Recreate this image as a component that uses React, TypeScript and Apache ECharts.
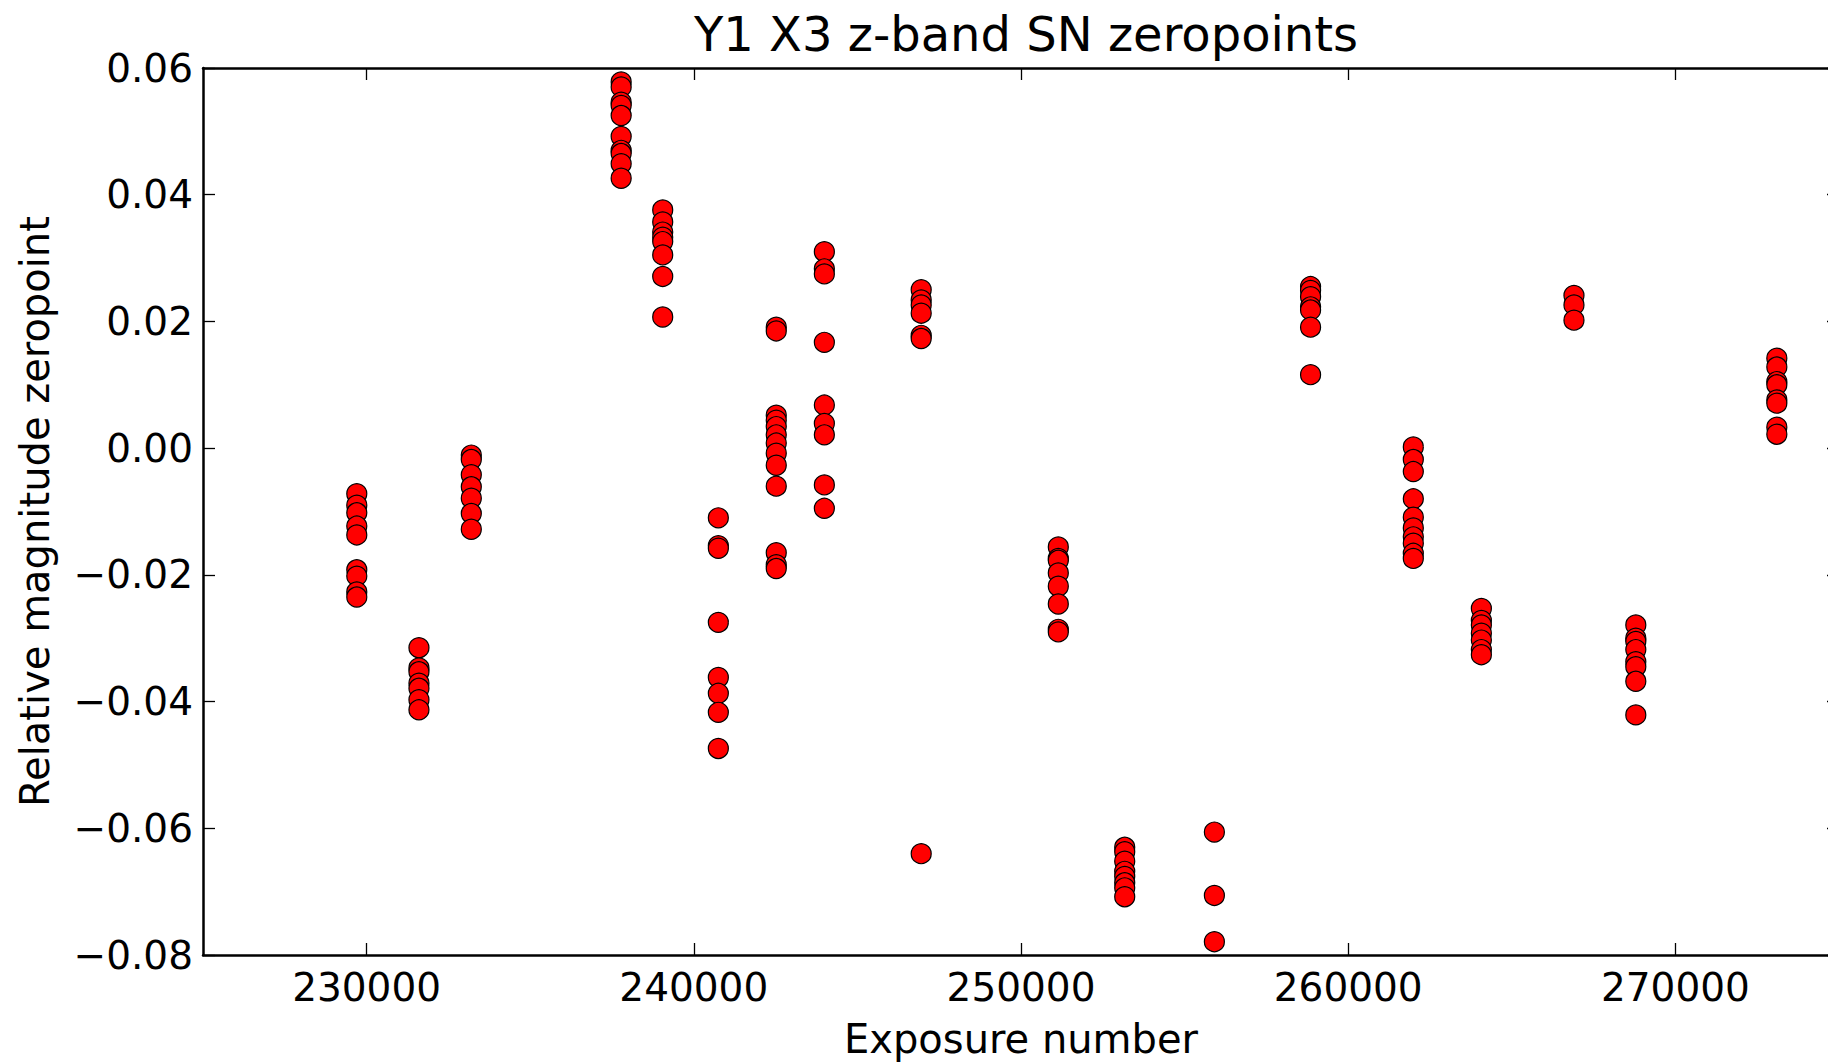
import React, { useEffect, useRef } from "react";
import * as echarts from "echarts";

const titleText = "Y1 X3 z-band SN zeropoints";
const xAxisName = "Exposure number";
const yAxisName = "Relative magnitude zeropoint";

const xTicks = [230000, 240000, 250000, 260000, 270000];
const yTicks = [-0.08, -0.06, -0.04, -0.02, 0.0, 0.02, 0.04, 0.06];

const exposureNumbers = [
  229700, 231600, 233200, 237780, 239050, 240750, 242520, 243990, 246950,
  251140, 253170, 255910, 258850, 261990, 264070, 266900, 268790, 273100,
];

const zeropoints = [
  [-0.0072, -0.009, -0.0102, -0.0123, -0.0137, -0.0192, -0.0202, -0.0227, -0.0235],
  [-0.0315, -0.0347, -0.0353, -0.0371, -0.0379, -0.0397, -0.0413],
  [-0.0011, -0.0018, -0.0042, -0.0061, -0.0079, -0.0103, -0.0128],
  [0.0578, 0.057, 0.0546, 0.0541, 0.0525, 0.0492, 0.047, 0.0465, 0.0449, 0.0426],
  [0.0376, 0.0357, 0.0341, 0.0333, 0.0326, 0.0305, 0.0271, 0.0207],
  [-0.011, -0.0154, -0.0158, -0.0275, -0.0362, -0.0387, -0.0417, -0.0474],
  [0.0191, 0.0185, 0.0052, 0.0044, 0.0034, 0.0021, 0.0008, -0.0008, -0.0027, -0.006, -0.0165, -0.0184, -0.019],
  [0.031, 0.0283, 0.0275, 0.0167, 0.0068, 0.0039, 0.0021, -0.0058, -0.0095],
  [0.025, 0.0234, 0.0226, 0.0213, 0.0178, 0.0173, -0.064],
  [-0.0156, -0.0174, -0.0177, -0.0197, -0.0218, -0.0246, -0.0286, -0.029],
  [-0.063, -0.0637, -0.0652, -0.0668, -0.0676, -0.0686, -0.0694, -0.0708],
  [-0.0606, -0.0706, -0.0779],
  [0.0255, 0.0249, 0.0239, 0.0223, 0.0218, 0.0191, 0.0116],
  [0.0002, -0.0018, -0.0037, -0.008, -0.0109, -0.0126, -0.014, -0.015, -0.0166, -0.0174],
  [-0.0253, -0.0272, -0.0279, -0.0292, -0.0303, -0.0318, -0.0326],
  [0.0241, 0.0226, 0.0202],
  [-0.0279, -0.03, -0.0305, -0.0318, -0.0337, -0.0345, -0.0368, -0.0421],
  [0.0142, 0.0128, 0.0105, 0.01, 0.0076, 0.0071, 0.0033, 0.0022],
];

const FONT = "'DejaVu Sans', 'Noto Sans', sans-serif";

function fmtY(v: number): string {
  const s = Math.abs(v).toFixed(2);
  return v < -1e-9 ? "\u2212" + s : s;
}

export default function App() {
  const ref = useRef<HTMLDivElement>(null);

  useEffect(() => {
    if (!ref.current) return;
    const chart = echarts.init(ref.current, undefined, { renderer: "svg" });

    const points: number[][] = [];
    exposureNumbers.forEach((x, i) => {
      zeropoints[i].forEach((y) => points.push([x, y]));
    });

    const tickStyle = { color: "#000", width: 1.3 };
    const lineStyle = { color: "#000", width: 2.5 };

    const xBase = {
      type: "value" as const,
      min: 225000,
      max: 275000,
      splitLine: { show: false },
      axisLine: { show: true, onZero: false, lineStyle },
      axisTick: {
        show: true,
        inside: true,
        length: 12,
        lineStyle: tickStyle,
        customValues: xTicks,
      },
    };
    const yBase = {
      type: "value" as const,
      min: yTicks[0],
      max: yTicks[yTicks.length - 1],
      interval: 0.02,
      splitLine: { show: false },
      axisLine: { show: true, onZero: false, lineStyle },
      axisTick: { show: true, inside: true, length: 12, lineStyle: tickStyle },
    };

    chart.setOption({
      animation: false,
      backgroundColor: "#ffffff",
      title: {
        text: titleText,
        left: 1021,
        top: 5,
        textAlign: "center",
        textStyle: {
          fontFamily: FONT,
          fontSize: 48,
          fontWeight: "normal",
          color: "#000",
        },
      },
      grid: {
        left: 203,
        top: 68,
        width: 1636,
        height: 887,
        containLabel: false,
        outerBoundsMode: "none",
      },
      xAxis: [
        {
          ...xBase,
          position: "bottom",
          name: xAxisName,
          nameLocation: "middle",
          nameGap: 64,
          nameTextStyle: {
            fontFamily: FONT,
            fontSize: 40,
            lineHeight: 40,
            color: "#000",
          },
          axisLabel: {
            show: true,
            margin: 13,
            fontFamily: FONT,
            fontSize: 39,
            color: "#000",
            customValues: xTicks,
            formatter: (v: number) => String(Math.round(v)),
          },
        },
        {
          ...xBase,
          position: "top",
          axisLabel: { show: false },
        },
      ],
      yAxis: [
        {
          ...yBase,
          position: "left",
          name: yAxisName,
          nameLocation: "middle",
          nameGap: 148,
          nameTextStyle: { fontFamily: FONT, fontSize: 40, color: "#000" },
          axisLabel: {
            show: true,
            margin: 10,
            fontFamily: FONT,
            fontSize: 39,
            color: "#000",
            formatter: fmtY,
          },
        },
        {
          ...yBase,
          position: "right",
          axisLabel: { show: false },
        },
      ],
      series: [
        {
          type: "scatter",
          xAxisIndex: 0,
          yAxisIndex: 0,
          data: points,
          symbol: "circle",
          symbolSize: 20,
          itemStyle: {
            color: "#ff0000",
            borderColor: "#000000",
            borderWidth: 1.2,
            opacity: 1,
          },
          emphasis: { disabled: true },
        },
      ],
    });

    return () => chart.dispose();
  }, []);

  return (
    <div
      ref={ref}
      style={{
        position: "absolute",
        left: 0,
        top: 0,
        width: 1828,
        height: 1063,
        background: "#fff",
      }}
    />
  );
}
